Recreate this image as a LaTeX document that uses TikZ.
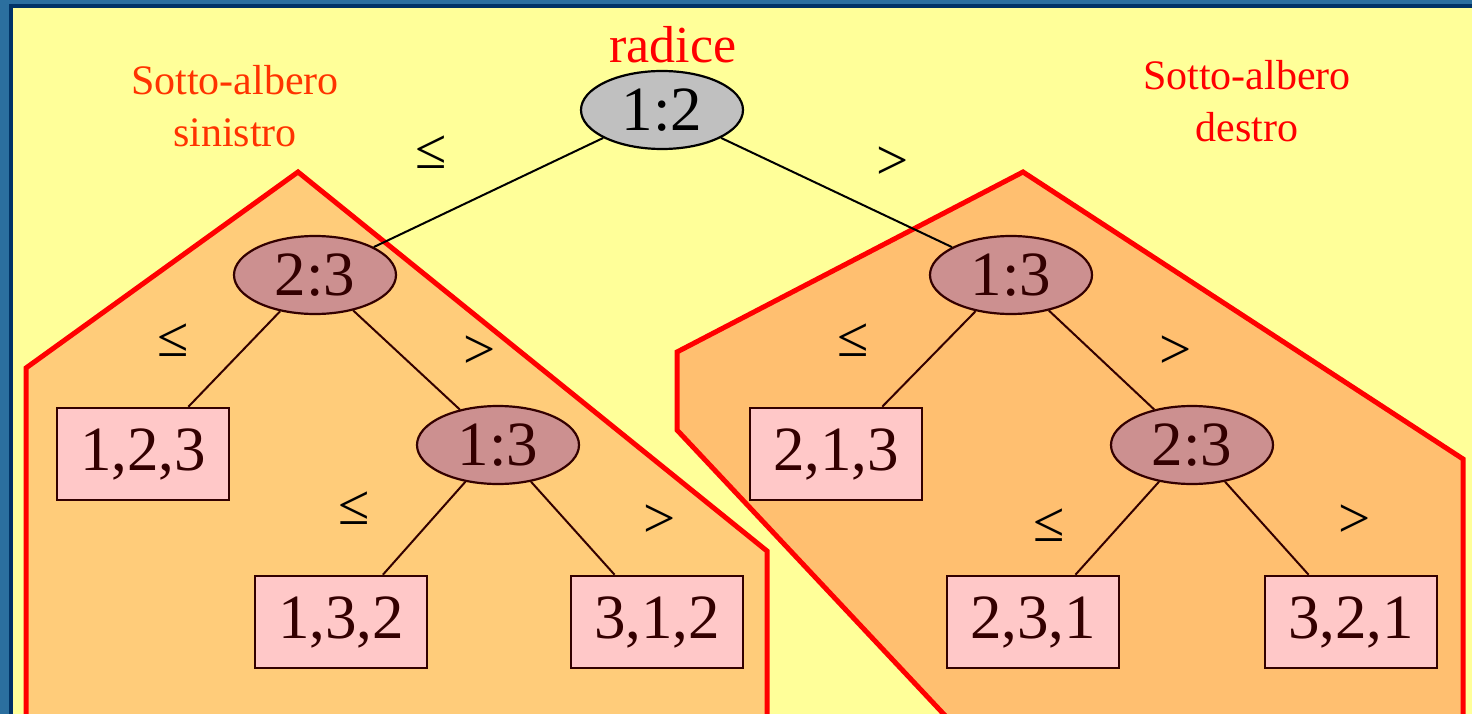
\documentclass[tikz,border=0pt]{standalone}
\usepackage{fontspec}
\setmainfont{Liberation Serif}
\usetikzlibrary{shapes.geometric}
\definecolor{bgyellow}{HTML}{FFFF99}
\definecolor{frameblue}{HTML}{2B6F9F}
\definecolor{framenavy}{HTML}{003366}
\definecolor{leftfill}{HTML}{FFCC7A}
\definecolor{rightfill}{HTML}{FFBF70}
\definecolor{nodebrown}{HTML}{330000}
\definecolor{ellfill}{HTML}{CC9090}
\definecolor{boxfill}{HTML}{FFC8C8}
\definecolor{rootgray}{HTML}{C0C0C0}
\definecolor{lblorange}{HTML}{FF3300}
\tikzset{
  x=1pt, y=-1pt,
  ellnode/.style={ellipse, draw=nodebrown, line width=2.2pt, fill=ellfill, text=nodebrown,
    minimum width=162pt, minimum height=78pt, inner sep=0pt,
    font=\fontsize{63}{70}\selectfont},
  rootnode/.style={ellnode, draw=black, fill=rootgray, text=black},
  leafbox/.style={rectangle, draw=nodebrown, line width=2.6pt, fill=boxfill, text=nodebrown,
    minimum width=172pt, minimum height=92pt, inner sep=0pt,
    font=\fontsize{63}{70}\selectfont},
  cmp/.style={font=\fontsize{57}{62}\selectfont, text=black, inner sep=0pt},
  edge/.style={draw=nodebrown, line width=2pt},
  rootedge/.style={draw=black, line width=2pt},
  subtree/.style={draw=red, line width=5pt, line join=miter},
  title/.style={font=\fontsize{42}{52}\selectfont, align=center, inner sep=0pt}
}
\begin{document}
\begin{tikzpicture}
\useasboundingbox (0,0) rectangle (1472,714);
% frame
\fill[frameblue] (0,0) rectangle (1472,714);
\fill[framenavy] (9,4) rectangle (1472,714);
\fill[bgyellow] (13,8) rectangle (1472,714);
\begin{scope}
\clip (13,8) rectangle (1472,714);
% subtree regions
\draw[subtree, fill=leftfill] (26,368) -- (298,172) -- (767,551) -- (767,740) -- (26,740) -- cycle;
\draw[subtree, fill=rightfill] (677,352) -- (1023,172) -- (1463,459) -- (1463,740) -- (968,740) -- (677,430) -- cycle;
\end{scope}
% titles
\node[title, text=red, font=\fontsize{52}{60}\selectfont] (radice) at (673,45) {radice};
\node[title, text=lblorange] (sinistro) at (235,106) {Sotto-albero\\sinistro};
\node[title, text=red] (destro) at (1247,101) {Sotto-albero\\destro};
% nodes
\node[rootnode] (r) at (662,110) {1:2};
\node[ellnode] (a) at (315,275) {2:3};
\node[ellnode] (b) at (1011,275) {1:3};
\node[leafbox] (l123) at (143,454) {1,2,3};
\node[ellnode] (c) at (498,445) {1:3};
\node[leafbox] (l132) at (341,622) {1,3,2};
\node[leafbox] (l312) at (657,622) {3,1,2};
\node[leafbox] (l213) at (836,454) {2,1,3};
\node[ellnode] (d) at (1192,445) {2:3};
\node[leafbox] (l231) at (1033,622) {2,3,1};
\node[leafbox] (l321) at (1351,622) {3,2,1};
% edges
\draw[rootedge] (r) -- (a);
\draw[rootedge] (r) -- (b);
\draw[edge] (a) -- (l123);
\draw[edge] (a) -- (c);
\draw[edge] (c) -- (l132);
\draw[edge] (c) -- (l312);
\draw[edge] (b) -- (l213);
\draw[edge] (b) -- (d);
\draw[edge] (d) -- (l231);
\draw[edge] (d) -- (l321);
% comparison labels
\node[cmp] (le0) at (431,152) {≤};
\node[cmp] (gt0) at (893,163) {>};
\node[cmp] (le1) at (173,340) {≤};
\node[cmp] (gt1) at (480,352) {>};
\node[cmp] (le2) at (354,508) {≤};
\node[cmp] (gt2) at (660,521) {>};
\node[cmp] (le3) at (853,340) {≤};
\node[cmp] (gt3) at (1176,352) {>};
\node[cmp] (le4) at (1049,525) {≤};
\node[cmp] (gt4) at (1355,521) {>};
\end{tikzpicture}
\end{document}
